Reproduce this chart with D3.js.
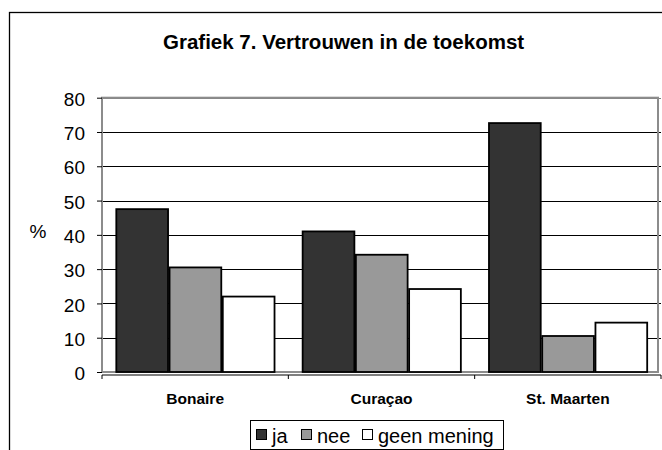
<!DOCTYPE html>
<html>
<head>
<meta charset="utf-8">
<script src="https://cdn.jsdelivr.net/npm/d3@7"></script>
<style>
  body { margin: 0; background: #fff; }
  svg { display: block; font-family: Arial, "Liberation Sans", sans-serif; }
</style>
</head>
<body>
<svg id="canvas" width="662" height="450"></svg>
<script>
const categories = ["Bonaire", "Curaçao", "St. Maarten"]
const seriesNames = ["ja", "nee", "geen mening"]
const ja = [47.5, 41, 72.6]
const nee = [30.5, 34.2, 10.5]
const geenMening = [22, 24.2, 14.4]
const yTicks = [0, 10, 20, 30, 40, 50, 60, 70, 80]
const colors = ["#333333", "#999999", "#ffffff"]

const svg = d3.select("#canvas")
const rows = categories.map((c, i) => ({ cat: c, vals: [ja[i], nee[i], geenMening[i]] }))

// outer chart border (continues off the picture on right and bottom)
svg.append("rect")
  .attr("x", 9.5).attr("y", 12.5).attr("width", 700).attr("height", 500)
  .attr("fill", "none").attr("stroke", "#000").attr("stroke-width", 1.3)

svg.append("text")
  .attr("x", 163).attr("y", 49)
  .style("font-weight", "bold").style("font-size", "20.5px")
  .text("Grafiek 7. Vertrouwen in de toekomst")

const pL = 102, pR = 658, pT = 97.7, pB = 372
const y = d3.scaleLinear().domain([0, 80]).range([pB, pT])
const x = d3.scaleBand().domain(categories).range([pL, 661]).paddingInner(0).paddingOuter(0)
const xs = d3.scaleBand().domain(seriesNames).range([0, x.bandwidth()]).paddingInner(0).paddingOuter(0.25)

// gridlines
svg.append("g").selectAll("line")
  .data(yTicks.filter(t => t > 0))
  .enter().append("line")
  .attr("x1", pL).attr("x2", 661)
  .attr("y1", d => Math.round(y(d)) + 0.5).attr("y2", d => Math.round(y(d)) + 0.5)
  .attr("stroke", d => d === 80 ? "#808080" : "#000").attr("stroke-width", 1.2)

// plot area frame
svg.append("rect")
  .attr("x", pL).attr("y", pT).attr("width", pR - pL).attr("height", pB - pT)
  .attr("fill", "none").attr("stroke", "#8c8c8c").attr("stroke-width", 2)

// y axis
const yAxis = svg.append("g")
  .attr("transform", "translate(" + pL + ",0)")
  .call(d3.axisLeft(y).tickValues(yTicks).tickSize(5).tickPadding(12))
yAxis.select(".domain").remove()
yAxis.selectAll("line").attr("stroke", "#000")
yAxis.selectAll("text").style("font-size", "19px").attr("fill", "#000").attr("dy", "0.4em")

svg.append("text")
  .attr("x", 38).attr("y", 238)
  .attr("text-anchor", "middle")
  .style("font-size", "19px")
  .text("%")

// bars
const groups = svg.append("g").selectAll("g")
  .data(rows)
  .enter().append("g")
  .attr("transform", d => "translate(" + x(d.cat) + ",0)")

groups.selectAll("rect")
  .data(d => d.vals.map((v, i) => ({ name: seriesNames[i], v: v, i: i })))
  .enter().append("rect")
  .attr("x", d => xs(d.name) + 1)
  .attr("width", xs.bandwidth() - 1.5)
  .attr("y", d => y(d.v))
  .attr("height", d => y(0) - y(d.v))
  .attr("fill", d => colors[d.i])
  .attr("stroke", "#000").attr("stroke-width", 1.8)

// x axis
const xAxis = svg.append("g")
  .attr("transform", "translate(0," + (pB + 3) + ")")
xAxis.append("line")
  .attr("x1", pL).attr("x2", 661).attr("y1", 0).attr("y2", 0)
  .attr("stroke", "#000").attr("stroke-width", 1.2)
xAxis.selectAll("line.tick")
  .data(categories.map(c => x(c)).concat([661]))
  .enter().append("line")
  .attr("class", "tick")
  .attr("x1", d => d).attr("x2", d => d).attr("y1", 0).attr("y2", 4)
  .attr("stroke", "#000")
xAxis.selectAll("text")
  .data(categories)
  .enter().append("text")
  .attr("x", d => x(d) + x.bandwidth() / 2)
  .attr("y", 29)
  .attr("text-anchor", "middle")
  .style("font-weight", "bold").style("font-size", "15.5px")
  .text(d => d)

// legend
const legend = svg.append("g").attr("transform", "translate(250,420)")
legend.append("rect")
  .attr("x", 0.5).attr("y", 0.5).attr("width", 253).attr("height", 29)
  .attr("fill", "#fff").attr("stroke", "#000").attr("stroke-width", 1)
const legendX = [6, 51, 112]
const items = legend.selectAll("g.item")
  .data(seriesNames)
  .enter().append("g")
  .attr("class", "item")
  .attr("transform", (d, i) => "translate(" + legendX[i] + ",0)")
items.append("rect")
  .attr("x", 0.5).attr("y", 9.5).attr("width", 10).attr("height", 10)
  .attr("fill", (d, i) => colors[i]).attr("stroke", "#000").attr("stroke-width", 1)
items.append("text")
  .attr("x", 16).attr("y", 23)
  .style("font-size", "20px")
  .text(d => d)
</script>
</body>
</html>
